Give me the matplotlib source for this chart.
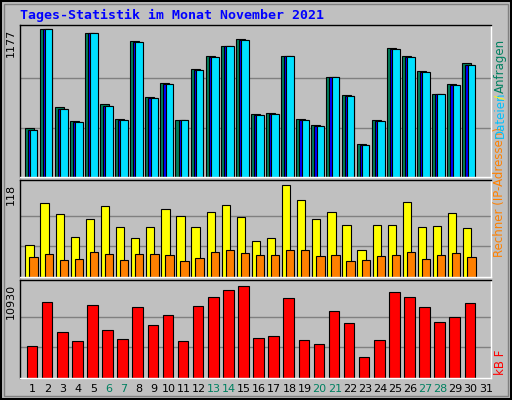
import matplotlib
matplotlib.use("Agg")
import matplotlib.pyplot as plt
import numpy as np

days = np.arange(1, 31)
hits = [386, 1177, 554, 442, 1145, 578, 458, 1081, 634, 746, 450, 857, 961, 1041, 1097,
        498, 506, 961, 458, 410, 794, 650, 266, 450, 1025, 961, 841, 658, 738, 905]
files = [370, 1177, 538, 434, 1145, 562, 450, 1073, 626, 738, 450, 849, 953, 1041, 1089,
         490, 498, 961, 450, 402, 794, 642, 258, 442, 1017, 953, 833, 658, 730, 889]
visits = [41, 95, 81, 51, 75, 91, 64, 50, 64, 87, 78, 64, 84, 92, 77,
          46, 50, 118, 99, 75, 84, 67, 35, 67, 67, 96, 64, 66, 82, 63]
sites = [26, 30, 22, 23, 32, 30, 22, 30, 30, 28, 21, 25, 32, 35, 31,
         28, 28, 35, 35, 27, 28, 20, 22, 27, 28, 32, 23, 28, 31, 26]
kbytes = [3750, 9015, 5425, 4348, 8656, 5665, 4588, 8417, 6263, 7460, 4348, 8537, 9614, 10452, 10930,
          4707, 4946, 9494, 4468, 3989, 7938, 6502, 2553, 4468, 10212, 9614, 8417, 6622, 7220, 8896]
weekend = [6, 7, 13, 14, 20, 21, 27, 28]

W, H = 512, 400
fig = plt.figure(figsize=(W / 100, H / 100), dpi=100)
fig.patch.set_facecolor("#c0c0c0")
bg = "#c0c0c0"
mono = "DejaVu Sans Mono"

def ax_px(x0, y0, x1, y1):
    ax = fig.add_axes([x0 / W, 1 - y1 / H, (x1 - x0) / W, (y1 - y0) / H])
    ax.set_facecolor(bg)
    ax.set_xlim(0.25, 31.45)
    ax.set_xticks([])
    ax.set_yticks([])
    for s in ax.spines.values():
        s.set_color("black")
        s.set_linewidth(1)
    ax.spines["right"].set_color("white")
    ax.spines["bottom"].set_color("white")
    return ax

# top panel
ax1 = ax_px(20, 25, 491, 177)
ax1.set_ylim(0, 1177 * 151 / 147)
for f in (1 / 3, 2 / 3):
    ax1.axhline(1177 * f, color="#808080", lw=1, zorder=0)
ax1.bar(days - 0.15, hits, width=0.6, color="#00805a", edgecolor="black", lw=0.8)
ax1.bar(days + 0.05, files, width=0.6, color="#0000ff", edgecolor="black", lw=0.8)
ax1.bar(days + 0.15, files, width=0.5, color="#00e0ff", edgecolor="black", lw=0.8)
fig.text(11 / W, 1 - 29 / H, "1177", rotation=90, ha="center", va="top", fontsize=8)

# middle panel
ax2 = ax_px(20, 180, 491, 277)
ax2.set_ylim(0, 118 * 97 / 92)
for f in (1 / 3, 2 / 3):
    ax2.axhline(118 * f, color="#808080", lw=1, zorder=0)
ax2.bar(days - 0.12, visits, width=0.55, color="#ffff00", edgecolor="black", lw=0.8)
ax2.bar(days + 0.15, sites, width=0.55, color="#ff8000", edgecolor="black", lw=0.8)
fig.text(11 / W, 1 - 184 / H, "118", rotation=90, ha="center", va="top", fontsize=8)

# bottom panel
ax3 = ax_px(20, 280, 491, 378)
ax3.set_ylim(0, 10930 * 97 / 91)
for f in (1 / 3, 2 / 3):
    ax3.axhline(10930 * f, color="#808080", lw=1, zorder=0)
ax3.bar(days + 0.05, kbytes, width=0.7, color="#ff0000", edgecolor="black", lw=0.8)
fig.text(11 / W, 1 - 284 / H, "10930", rotation=90, ha="center", va="top", fontsize=8)

for d in range(1, 32):
    x = 20 + (d - 0.25) * 471 / 31.2 + 1.5
    c = "#008060" if d in weekend else "black"
    fig.text(x / W, 1 - 389 / H, str(d), ha="center", va="center", fontsize=8, color=c)

fig.text(20 / W, 1 - 15 / H, "Tages-Statistik im Monat November 2021", fontsize=9.5,
         fontweight="bold", color="#0000ff", family=mono, va="center")

# right side labels
rx = 500 / W
fig.text(rx, 1 - 257 / H, "Rechner (IP-Adressen)", rotation=90, ha="center", va="bottom",
         fontsize=8.5, color="#ff8000")
fig.text(rx, 1 - 138 / H, "Dateien", rotation=90, ha="center", va="bottom",
         fontsize=8.5, color="#00c0ff")
fig.text(rx, 1 - 99 / H, "/", rotation=90, ha="center", va="bottom", fontsize=8.5, color="#ffff00")
fig.text(rx, 1 - 93 / H, "Anfragen", rotation=90, ha="center", va="bottom",
         fontsize=8.5, color="#008060")
fig.text(rx, 1 - 375 / H, "kB F", rotation=90, ha="center", va="bottom",
         fontsize=8.5, color="#ff0000")

# outer frame
fig.add_artist(plt.Rectangle((1 / W, 1 / H), 1 - 2 / W, 1 - 2 / H, transform=fig.transFigure,
                             fill=False, edgecolor="black", lw=1.5))
fig.add_artist(plt.Rectangle((4 / W, 4 / H), 1 - 8 / W, 1 - 8 / H, transform=fig.transFigure,
                             fill=False, edgecolor="#808080", lw=1))

fig.savefig("out.png", dpi=100, facecolor=fig.get_facecolor())
